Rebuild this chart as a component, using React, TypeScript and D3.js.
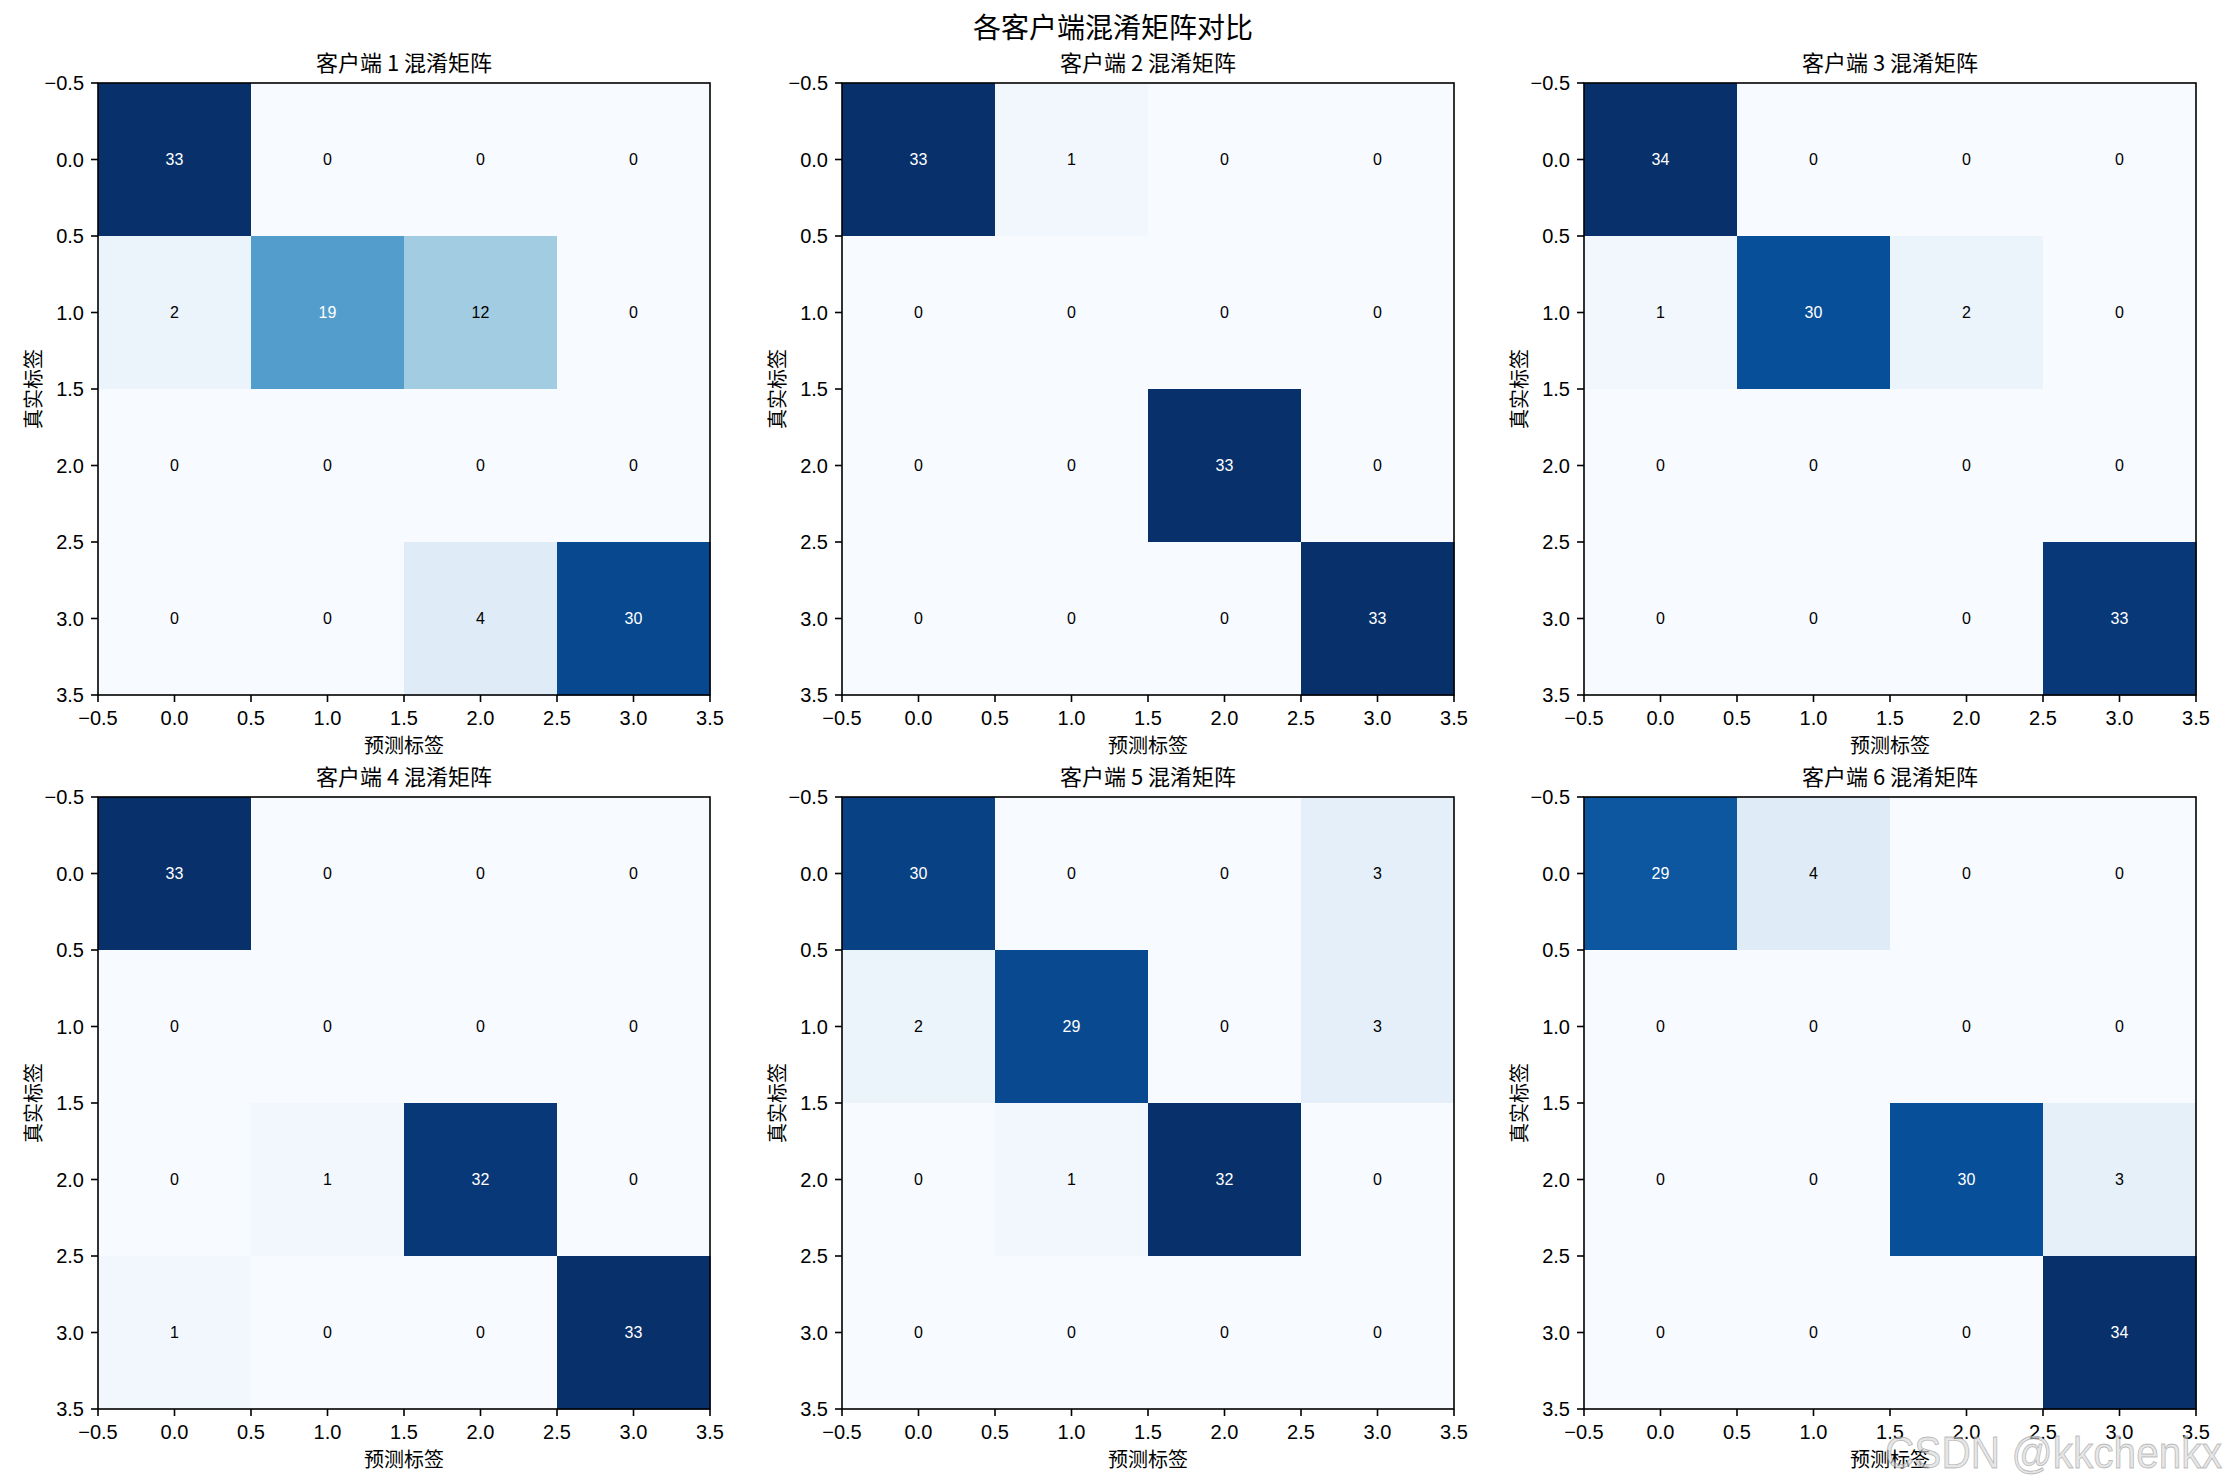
import * as d3 from "d3";

// confusion matrices per client (rows = true label, cols = predicted label)
const client1 = [
  [33, 0, 0, 0],
  [2, 19, 12, 0],
  [0, 0, 0, 0],
  [0, 0, 4, 30],
];
const client2 = [
  [33, 1, 0, 0],
  [0, 0, 0, 0],
  [0, 0, 33, 0],
  [0, 0, 0, 33],
];
const client3 = [
  [34, 0, 0, 0],
  [1, 30, 2, 0],
  [0, 0, 0, 0],
  [0, 0, 0, 33],
];
const client4 = [
  [33, 0, 0, 0],
  [0, 0, 0, 0],
  [0, 1, 32, 0],
  [1, 0, 0, 33],
];
const client5 = [
  [30, 0, 0, 3],
  [2, 29, 0, 3],
  [0, 1, 32, 0],
  [0, 0, 0, 0],
];
const client6 = [
  [29, 4, 0, 0],
  [0, 0, 0, 0],
  [0, 0, 30, 3],
  [0, 0, 0, 34],
];

const matrices = [client1, client2, client3, client4, client5, client6];
const panelTitles = [
  "客户端 1 混淆矩阵",
  "客户端 2 混淆矩阵",
  "客户端 3 混淆矩阵",
  "客户端 4 混淆矩阵",
  "客户端 5 混淆矩阵",
  "客户端 6 混淆矩阵",
];
const axisTicks = [-0.5, 0, 0.5, 1, 1.5, 2, 2.5, 3, 3.5];
const figTitle = "各客户端混淆矩阵对比";
const xLabel = "预测标签";
const yLabel = "真实标签";
const watermark = "CSDN @kkchenkx";

// matplotlib "Blues" (linear segments between the 9 brewer stops)
const bluesStops = [
  "#f7fbff", "#deebf7", "#c6dbef", "#9ecae1", "#6baed6",
  "#4292c6", "#2171b5", "#08519c", "#08306b",
];
const blues = d3
  .scaleLinear<string>()
  .domain(d3.range(bluesStops.length).map((i) => i / (bluesStops.length - 1)))
  .range(bluesStops)
  .interpolate(d3.interpolateRgb)
  .clamp(true);

const W = 2226;
const H = 1484;
const colLeft = [98, 842, 1584];
const rowTop = [83, 797];
const size = 612;

const FONT = "'Liberation Sans', 'Noto Sans CJK SC', sans-serif";
const CJK = "'Noto Sans CJK SC', sans-serif";

const fmt = (v: number) => (v < 0 ? "\u2212" : "") + Math.abs(v).toFixed(1);

function Panel({ data, title, x0, y0 }: { data: number[][]; title: string; x0: number; y0: number }) {
  const x = d3.scaleLinear().domain([-0.5, 3.5]).range([x0, x0 + size]);
  const y = d3.scaleLinear().domain([-0.5, 3.5]).range([y0, y0 + size]);
  const flat = data.flat();
  const vmin = d3.min(flat) ?? 0;
  const vmax = d3.max(flat) ?? 1;
  const norm = d3.scaleLinear().domain([vmin, vmax]).range([0, 1]);
  const thresh = vmax / 2;
  const tickLen = 7;

  return (
    <g>
      {data.map((row, i) =>
        row.map((v, j) => (
          <rect
            key={`c${i}-${j}`}
            x={x(j - 0.5)}
            y={y(i - 0.5)}
            width={x(j + 0.5) - x(j - 0.5) + 0.5}
            height={y(i + 0.5) - y(i - 0.5) + 0.5}
            fill={blues(norm(v))}
          />
        ))
      )}
      {data.map((row, i) =>
        row.map((v, j) => (
          <text
            key={`t${i}-${j}`}
            x={x(j)}
            y={y(i)}
            textAnchor="middle"
            dominantBaseline="central"
            fontSize={16}
            fontFamily={FONT}
            fill={v > thresh ? "#ffffff" : "#000000"}
          >
            {v}
          </text>
        ))
      )}
      <rect x={x0} y={y0} width={size} height={size} fill="none" stroke="#000" strokeWidth={1.6} />
      {axisTicks.map((t) => (
        <g key={`xt${t}`}>
          <line x1={x(t)} x2={x(t)} y1={y0 + size} y2={y0 + size + tickLen} stroke="#000" strokeWidth={1.6} />
          <text x={x(t)} y={y0 + size + 30} textAnchor="middle" fontSize={20} fontFamily={FONT} fill="#000">
            {fmt(t)}
          </text>
        </g>
      ))}
      {axisTicks.map((t) => (
        <g key={`yt${t}`}>
          <line x1={x0 - tickLen} x2={x0} y1={y(t)} y2={y(t)} stroke="#000" strokeWidth={1.6} />
          <text x={x0 - 14} y={y(t)} dy="0.36em" textAnchor="end" fontSize={20} fontFamily={FONT} fill="#000">
            {fmt(t)}
          </text>
        </g>
      ))}
      <text x={x0 + size / 2} y={y0 + size + 58} textAnchor="middle" fontSize={20} fontFamily={CJK} fill="#000">
        {xLabel}
      </text>
      <text
        transform={`translate(${x0 - 66},${y0 + size / 2}) rotate(-90)`}
        textAnchor="middle"
        dominantBaseline="central"
        fontSize={20}
        fontFamily={CJK}
        fill="#000"
      >
        {yLabel}
      </text>
      <text x={x0 + size / 2} y={y0 - 12} textAnchor="middle" fontSize={22} fontFamily={CJK} fill="#000">
        {title}
      </text>
    </g>
  );
}

export default function App() {
  return (
    <div style={{ position: "absolute", left: 0, top: 0 }}>
      <svg width={W} height={H} viewBox={`0 0 ${W} ${H}`} style={{ display: "block", background: "#fff" }}>
        <rect width={W} height={H} fill="#fff" />
        <text x={W / 2} y={38} textAnchor="middle" fontSize={28} fontFamily={CJK} fill="#000">
          {figTitle}
        </text>
        {matrices.map((m, k) => (
          <Panel
            key={k}
            data={m}
            title={panelTitles[k]}
            x0={colLeft[k % 3]}
            y0={rowTop[Math.floor(k / 3)]}
          />
        ))}
        <text
          x={1885}
          y={1468}
          fontSize={44}
          fontFamily="'Liberation Sans', sans-serif"
          textLength={337}
          lengthAdjust="spacingAndGlyphs"
          fill="rgba(215,215,215,0.65)"
          stroke="rgba(120,120,120,0.45)"
          strokeWidth={0.9}
        >
          {watermark}
        </text>
      </svg>
    </div>
  );
}
